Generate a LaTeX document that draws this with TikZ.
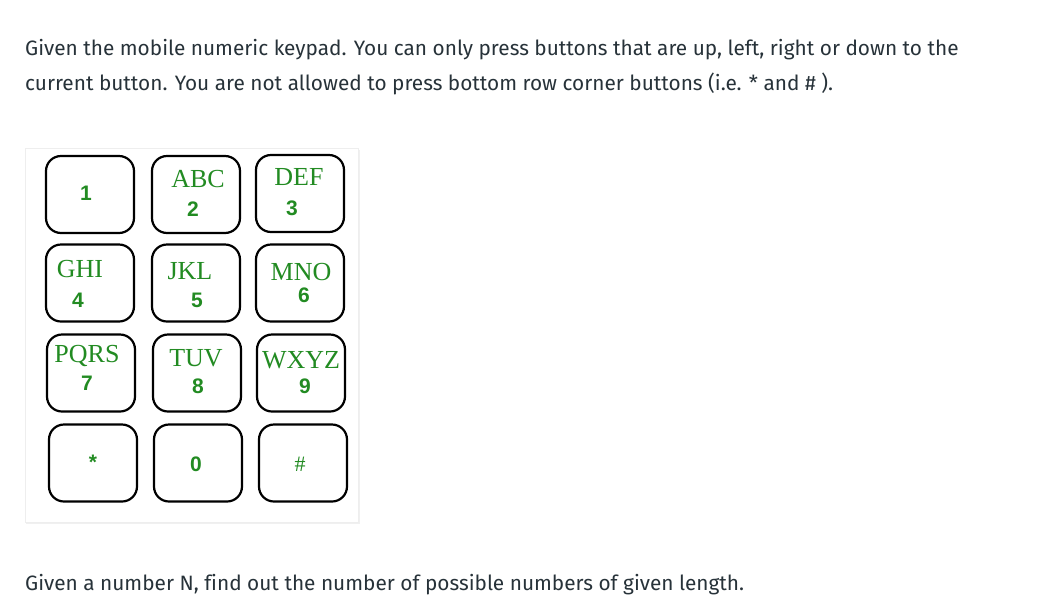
\documentclass[tikz,border=0pt]{standalone}
\usepackage{fontspec}
\setmainfont[Ligatures={NoCommon}]{Fira Sans}
\newfontfamily\keyserif{Liberation Serif}
\newfontfamily\keysans{Liberation Sans}
\definecolor{bodytext}{RGB}{39,50,57}
\definecolor{keygreen}{RGB}{34,139,34}
\definecolor{cardedge}{RGB}{238,238,238}
\begin{document}
\begin{tikzpicture}[x=1pt,y=-1pt,
  para/.style={anchor=base west,inner sep=0pt,text=bodytext,font=\fontsize{20.8}{24}\selectfont},
  keybox/.style={draw=black,line width=2.2pt,rounded corners=15pt,minimum width=88pt,minimum height=77pt,inner sep=0pt},
  letters/.style={text=keygreen,inner sep=0pt,font=\keyserif\fontsize{26}{28}\selectfont},
  digit/.style={text=keygreen,inner sep=0pt,font=\keysans\bfseries\fontsize{21}{24}\selectfont}]
\useasboundingbox (0,0) rectangle (1042,598);
\fill[white] (0,0) rectangle (1042,598);
% texts
\node[para] (t1) at (25,55) {Given the mobile numeric keypad. You can only press buttons that are up, left, right or down to the};
\node[para] (t2) at (25,90.5) {current button. You are not allowed to press bottom row corner buttons (i.e. * and \# ).};
\node[para] (t3) at (25,590) {Given a number N, find out the number of possible numbers of given length.};
% card
\fill[black!6] (26,149.5) rectangle (360,524);
\node[fill=white,draw=cardedge,line width=0.6pt,minimum width=333pt,minimum height=374pt,inner sep=0pt] (card) at (192,335) {};
% buttons
\node[keybox] (k1) at (90,194.5) {};
\node[keybox] (k2) at (196,194.5) {};
\node[keybox] (k3) at (300,193.5) {};
\node[keybox] (k4) at (90,283) {};
\node[keybox] (k5) at (196,283) {};
\node[keybox] (k6) at (300,283) {};
\node[keybox] (k7) at (91,373) {};
\node[keybox] (k8) at (197,373) {};
\node[keybox] (k9) at (301,373) {};
\node[keybox] (ks) at (93,463) {};
\node[keybox] (k0) at (198,463) {};
\node[keybox] (kh) at (303,463) {};
% labels
\node[digit] (d1) at (86,193) {1};
\node[letters] (l2) at (198,179) {ABC};
\node[digit] (d2) at (193,209) {2};
\node[letters] (l3) at (299,177) {DEF};
\node[digit] (d3) at (292,208) {3};
\node[letters] (l4) at (80,269) {GHI};
\node[digit] (d4) at (78,300) {4};
\node[letters] (l5) at (190,271) {JKL};
\node[digit] (d5) at (197,300) {5};
\node[letters] (l6) at (301,272) {MNO};
\node[digit] (d6) at (304,295) {6};
\node[letters] (l7) at (87,356) {PQRS};
\node[digit] (d7) at (87,383) {7};
\node[letters] (l8) at (196,358) {TUV};
\node[digit] (d8) at (198,386) {8};
\node[letters] (l9) at (301,360) {WXYZ};
\node[digit] (d9) at (305,386) {9};
\node[digit] (ds) at (93,462) {*};
\node[digit] (d0) at (196,464) {0};
\node[letters,font=\keyserif\fontsize{22}{24}\selectfont] (dh) at (300,464) {\#};
\end{tikzpicture}
\end{document}
